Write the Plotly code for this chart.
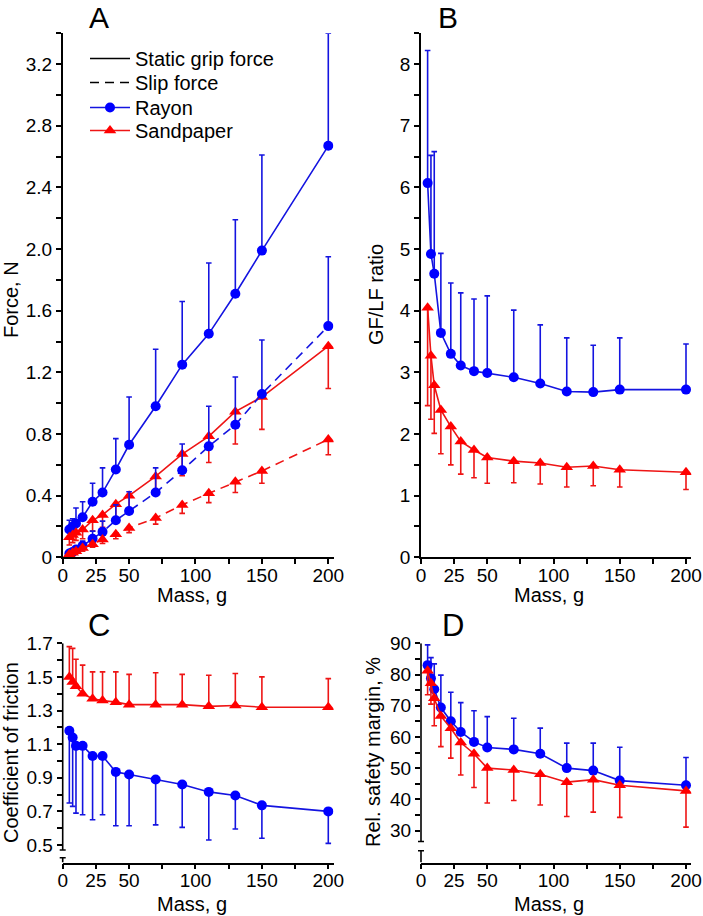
import plotly.graph_objects as go

# ---------------- data ----------------
mass = [5, 7.5, 10, 15, 22.5, 30, 40, 50, 70, 90, 110, 130, 150, 200]

# Panel A: forces (N)
rayon_grip = [0.18, 0.20, 0.22, 0.26, 0.36, 0.42, 0.57, 0.73, 0.98, 1.25, 1.45, 1.71, 1.99, 2.67]
rayon_grip_sd = [0.06, 0.05, 0.10, 0.10, 0.12, 0.16, 0.20, 0.31, 0.37, 0.41, 0.46, 0.48, 0.62, 0.73]
rayon_slip = [0.025, 0.035, 0.05, 0.075, 0.12, 0.165, 0.24, 0.30, 0.42, 0.565, 0.72, 0.86, 1.06, 1.50]
rayon_slip_sd = [0.01, 0.015, 0.02, 0.03, 0.05, 0.07, 0.10, 0.125, 0.16, 0.17, 0.26, 0.31, 0.35, 0.45]
sand_grip = [0.13, 0.145, 0.16, 0.18, 0.24, 0.275, 0.345, 0.40, 0.525, 0.67, 0.785, 0.945, 1.04, 1.37]
sand_grip_sd = [0.05, 0.05, 0.05, 0.06, 0.07, 0.08, 0.09, 0.10, 0.12, 0.14, 0.17, 0.21, 0.21, 0.275]
sand_slip = [0.02, 0.03, 0.04, 0.06, 0.085, 0.115, 0.15, 0.19, 0.255, 0.34, 0.415, 0.49, 0.56, 0.765]
sand_slip_sd = [0.01, 0.01, 0.015, 0.02, 0.02, 0.025, 0.03, 0.03, 0.04, 0.055, 0.06, 0.07, 0.08, 0.10]

# Panel B: GF/LF ratio
rayon_ratio = [6.07, 4.92, 4.60, 3.64, 3.30, 3.11, 3.02, 2.99, 2.92, 2.82, 2.69, 2.68, 2.72, 2.72]
rayon_ratio_sd = [2.15, 1.60, 1.98, 1.29, 1.15, 1.18, 1.17, 1.25, 1.09, 0.95, 0.87, 0.76, 0.84, 0.74]
sand_ratio = [4.05, 3.27, 2.79, 2.39, 2.12, 1.88, 1.74, 1.62, 1.56, 1.53, 1.46, 1.48, 1.42, 1.38]
sand_ratio_sd = [1.59, 1.03, 0.78, 0.71, 0.62, 0.53, 0.45, 0.42, 0.35, 0.34, 0.32, 0.32, 0.28, 0.28]

# Panel C: coefficient of friction
rayon_cof = [1.18, 1.14, 1.09, 1.09, 1.03, 1.03, 0.935, 0.92, 0.89, 0.86, 0.816, 0.795, 0.736, 0.70]
rayon_cof_sd = [0.43, 0.41, 0.40, 0.41, 0.38, 0.35, 0.32, 0.305, 0.27, 0.255, 0.286, 0.20, 0.196, 0.19]
sand_cof = [1.50, 1.47, 1.445, 1.40, 1.37, 1.36, 1.35, 1.335, 1.335, 1.335, 1.325, 1.33, 1.32, 1.32]
sand_cof_sd = [0.18, 0.20, 0.16, 0.17, 0.16, 0.17, 0.18, 0.18, 0.19, 0.18, 0.185, 0.19, 0.18, 0.17]

# Panel D: relative safety margin (%)
rayon_sm = [83.0, 78.8, 75.3, 69.4, 65.0, 61.6, 58.4, 56.6, 56.0, 54.6, 50.0, 49.2, 46.0, 44.5]
rayon_sm_sd = [6.5, 6.6, 8.1, 10.4, 9.3, 9.4, 10.0, 9.9, 10.0, 8.2, 8.0, 8.8, 10.7, 8.9]
sand_sm = [81.2, 77.2, 72.4, 66.7, 62.8, 58.2, 54.6, 50.0, 49.4, 48.0, 45.5, 46.3, 44.5, 42.7]
sand_sm_sd = [7.7, 6.7, 8.8, 9.8, 9.6, 10.4, 10.8, 11.2, 9.8, 9.8, 11.0, 10.4, 10.3, 11.6]

x_ticks = [0, 25, 50, 75, 100, 125, 150, 175, 200]
x_ticktext = ["0", "25", "50", "", "100", "", "150", "", "200"]

# ---------------- styling ----------------
FONT = "Liberation Sans, Arial, sans-serif"
BLUE = "#0000ff"
BLUE_LINE = "#1414e0"
RED = "#ff0000"
RED_LINE = "#ee1515"
W, H = 703, 916
DASH = "9px,6px"

fig = go.Figure()
zeros = [0] * len(mass)


def add(xa, ya, y, sd, color, lcolor, symbol, up=True, dash="solid", name=None,
        show=False, size=10, legend="legend"):
    err = dict(type="data", symmetric=False,
               array=sd if up else zeros,
               arrayminus=zeros if up else sd,
               color=lcolor, thickness=1.6, width=2.8)
    fig.add_trace(go.Scatter(
        x=mass, y=y, xaxis=xa, yaxis=ya, mode="lines+markers",
        line=dict(color=lcolor, width=1.6, dash=dash),
        marker=dict(color=color, symbol=symbol, size=size, line=dict(width=0)),
        error_y=err, name=name, showlegend=show, legend=legend))


# legend-only entries for line styles
fig.add_trace(go.Scatter(x=[None], y=[None], xaxis="x", yaxis="y", mode="lines",
                         line=dict(color="black", width=1.6), name="Static grip force",
                         showlegend=True, legend="legend"))
fig.add_trace(go.Scatter(x=[None], y=[None], xaxis="x", yaxis="y", mode="lines",
                         line=dict(color="black", width=1.6, dash=DASH), name="Slip force",
                         showlegend=True, legend="legend2"))

# Panel A
add("x", "y", rayon_grip, rayon_grip_sd, BLUE, BLUE_LINE, "circle", True, "solid", "Rayon", True,
    legend="legend3")
add("x", "y", sand_grip, sand_grip_sd, RED, RED_LINE, "triangle-up", False, "solid", "Sandpaper", True, 11,
    legend="legend4")
add("x", "y", rayon_slip, rayon_slip_sd, BLUE, BLUE_LINE, "circle", True, DASH)
add("x", "y", sand_slip, sand_slip_sd, RED, RED_LINE, "triangle-up", False, DASH, size=11)
# Panel B
add("x2", "y2", rayon_ratio, rayon_ratio_sd, BLUE, BLUE_LINE, "circle", True)
add("x2", "y2", sand_ratio, sand_ratio_sd, RED, RED_LINE, "triangle-up", False, size=11)
# Panel C
add("x3", "y3", sand_cof, sand_cof_sd, RED, RED_LINE, "triangle-up", True, size=11)
add("x3", "y3", rayon_cof, rayon_cof_sd, BLUE, BLUE_LINE, "circle", False)
# Panel D
add("x4", "y4", rayon_sm, rayon_sm_sd, BLUE, BLUE_LINE, "circle", True)
add("x4", "y4", sand_sm, sand_sm_sd, RED, RED_LINE, "triangle-up", False, size=11)

tickfont = dict(family=FONT, size=19, color="black")


def xax(domain, anchor):
    return dict(domain=domain, anchor=anchor, range=[0, 204], tickvals=x_ticks, ticktext=x_ticktext,
                ticks="outside", ticklen=5, tickwidth=1.5, tickcolor="black", ticklabelstandoff=-5,
                showline=True, linecolor="black", linewidth=1.6, showgrid=False, zeroline=False,
                tickfont=tickfont, fixedrange=True, automargin=False)


def yax(domain, anchor, rng, tickvals, ticktext, showline=True):
    return dict(domain=domain, anchor=anchor, range=rng, tickvals=tickvals, ticktext=ticktext,
                ticks="outside", ticklen=5, tickwidth=1.5, tickcolor="black",
                showline=showline, linecolor="black", linewidth=1.6, showgrid=False, zeroline=False,
                tickfont=tickfont, fixedrange=True, automargin=False)


xA = [62.7 / W, 333.6 / W]
xB = [421 / W, 691.3 / W]
yTop = [1 - 557.3 / H, 1 - 33.3 / H]
yBot = [1 - 862.5 / H, 1 - 643.3 / H]

# tick values
a_vals = [round(0.2 * i, 1) for i in range(18)]
a_text = ["0" if v == 0 else (f"{v:.1f}" if round(v * 10) % 4 == 0 else "") for v in a_vals]
b_vals = [0.5 * i for i in range(18)]
b_text = [str(int(v)) if v == int(v) else "" for v in b_vals]
c_vals = [round(0.5 + 0.1 * i, 1) for i in range(13)]
c_text = [f"{v:.1f}" if i % 2 == 0 else "" for i, v in enumerate(c_vals)]
d_vals = [30 + 5 * i for i in range(13)]
d_text = [str(v) if v % 10 == 0 else "" for v in d_vals]


def leg(top_px):
    return dict(x=85 / W, y=1 - top_px / H, xanchor="left", yanchor="top",
                bgcolor="rgba(0,0,0,0)", font=dict(family=FONT, size=20, color="black"),
                tracegroupgap=0, itemwidth=40)


fig.update_layout(
    template="none",
    width=W, height=H, margin=dict(l=0, r=0, t=0, b=0, pad=0, autoexpand=False),
    paper_bgcolor="white", plot_bgcolor="white",
    font=dict(family=FONT, size=19, color="black"),
    xaxis=xax(xA, "y"), yaxis=yax(yTop, "x", [0, 3.4], a_vals, a_text),
    xaxis2=xax(xB, "y2"), yaxis2=yax(yTop, "x2", [0, 8.5], b_vals, b_text),
    xaxis3=xax(xA, "y3"), yaxis3=yax(yBot, "x3", [0.396, 1.7], c_vals, c_text, False),
    xaxis4=xax(xB, "y4"), yaxis4=yax(yBot, "x4", [19.75, 90], d_vals, d_text, False),
    legend=leg(39), legend2=leg(63), legend3=leg(88), legend4=leg(111),
    showlegend=True,
)

# broken y-axes for C and D
shapes = []
for xr, yr, top, up_end, low_cap, bottom in [("x3 domain", "y3", 1.7, 0.47, 0.424, 0.396),
                                               ("x4 domain", "y4", 90, 26.5, 23.5, 19.75)]:
    ln = dict(color="black", width=1.6)
    shapes.append(dict(type="line", xref=xr, yref=yr, x0=0, x1=0, y0=up_end, y1=top, line=ln))
    shapes.append(dict(type="line", xref=xr, yref=yr, x0=0, x1=0, y0=bottom, y1=low_cap, line=ln))
    for yc in (up_end, low_cap):
        shapes.append(dict(type="line", xref=xr, yref=yr, xsizemode="pixel", xanchor=0,
                           x0=-3, x1=3, y0=yc, y1=yc, line=ln))
fig.update_layout(shapes=shapes)

# annotations: panel letters and axis titles
ann = []
for txt, px in [("A", 99), ("B", 448)]:
    ann.append(dict(text=txt, x=px / W, y=1, xref="paper", yref="paper",
                    showarrow=False, font=dict(family=FONT, size=30, color="black"),
                    xanchor="center", yanchor="top", yshift=1))
for txt, px, py in [("C", 99, 625), ("D", 453, 625)]:
    ann.append(dict(text=txt, x=px / W, y=1 - py / H, xref="paper", yref="paper",
                    showarrow=False, font=dict(family=FONT, size=31, color="black"),
                    xanchor="center", yanchor="middle"))
for txt, px, py in [("Force, N", 11, 300), ("GF/LF ratio", 376, 295),
                    ("Coefficient of friction", 11, 753), ("Rel. safety margin, %", 373, 752)]:
    ann.append(dict(text=txt, x=px / W, y=1 - py / H, xref="paper", yref="paper", textangle=-90,
                    showarrow=False, font=dict(family=FONT, size=20, color="black"),
                    xanchor="center", yanchor="middle"))
for px, py in [(192, 595), (549, 595), (192, 904), (549, 904)]:
    ann.append(dict(text="Mass, g", x=px / W, y=1 - py / H, xref="paper", yref="paper",
                    showarrow=False, font=dict(family=FONT, size=20, color="black"),
                    xanchor="center", yanchor="middle"))
fig.update_layout(annotations=ann)

fig.write_html("out.html", config={"displayModeBar": False},
               post_script="document.body.style.margin='0';document.body.style.overflow='hidden';")
